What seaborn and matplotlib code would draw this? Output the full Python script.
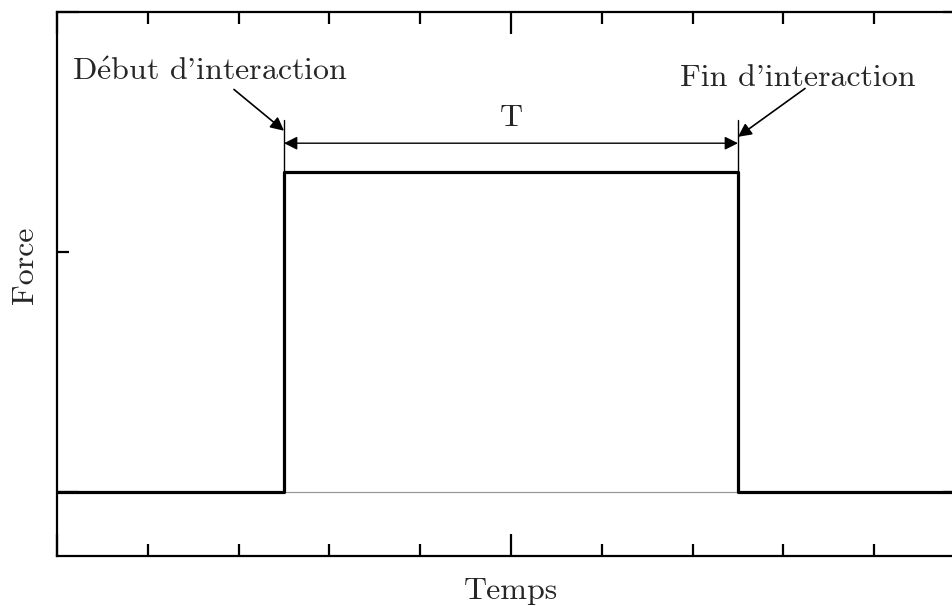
import numpy as np
import pandas as pd
import matplotlib
matplotlib.use("Agg")
import matplotlib.pyplot as plt
import seaborn as sns

# signal de force (creneau)
temps = [0, 2.5, 7.5, 10]
force = [0, 1, 0, 0]
t_debut = 2.5
t_fin = 7.5

# le é passe par mathtext (cmr10 n'a pas le glyphe)
txt_debut = r"D$\acute{\mathrm{e}}$but d'interaction"
txt_fin = "Fin d'interaction"
txt_T = "T"
xlab = "Temps"
ylab = "Force"

sns.set_style("ticks")
plt.rcParams['font.family'] = ['cmr10', 'DejaVu Serif']
plt.rcParams['mathtext.fontset'] = 'cm'

df = pd.DataFrame({"Temps": temps, "Force": force})

fig = plt.figure(figsize=(9.53, 6.06), dpi=100)
ax = fig.add_axes([57 / 953, 50 / 606, 908 / 953, 544 / 606])

ax.axhline(0, color="#999999", lw=0.9, zorder=1)
sns.lineplot(data=df, x="Temps", y="Force", ax=ax, color="black", lw=2.3,
             drawstyle="steps-post", zorder=3)

ax.set_xlim(0, 10)
ax.set_ylim(-0.2, 1.5)

ax.set_xticks([0, 5, 10])
ax.set_xticks(np.arange(1, 10), minor=True)
ax.set_yticks([0, 1.5])
ax.set_yticks([0.75], minor=True)
ax.tick_params(which="both", direction="in", top=True, right=True,
               labelbottom=False, labelleft=False, width=1.6, color="black")
ax.tick_params(which="major", length=16)
ax.tick_params(which="minor", length=8.5)
for s in ax.spines.values():
    s.set_linewidth(1.6)
    s.set_color("black")

fs = 23

# reperes verticaux et duree T
ax.plot([t_debut, t_debut], [1, 1.1625], color="black", lw=1)
ax.plot([t_fin, t_fin], [1, 1.1625], color="black", lw=1)
ax.annotate("", xy=(t_debut, 1.09), xytext=(t_fin, 1.09),
            arrowprops=dict(arrowstyle="<|-|>", color="black", lw=1,
                            mutation_scale=20, shrinkA=0, shrinkB=0))
ax.text((t_debut + t_fin) / 2, 1.169, txt_T, ha="center", va="center", fontsize=fs)

ax.annotate("", xy=(t_debut, 1.129), xytext=(1.949, 1.258),
            arrowprops=dict(arrowstyle="-|>", color="black", lw=1.2,
                            mutation_scale=20, shrinkA=0, shrinkB=0))
ax.text(1.685, 1.3125, txt_debut, ha="center", va="center", fontsize=fs)

ax.annotate("", xy=(t_fin, 1.110), xytext=(8.238, 1.261),
            arrowprops=dict(arrowstyle="-|>", color="black", lw=1.2,
                            mutation_scale=20, shrinkA=0, shrinkB=0))
ax.text(8.16, 1.294, txt_fin, ha="center", va="center", fontsize=fs)

ax.set_xlabel(xlab, fontsize=fs)
ax.set_ylabel(ylab, fontsize=fs)
ax.xaxis.set_label_coords(0.5, -0.040)
ax.yaxis.set_label_coords(-0.020, 0.535)

fig.savefig("out.png", dpi=100)
